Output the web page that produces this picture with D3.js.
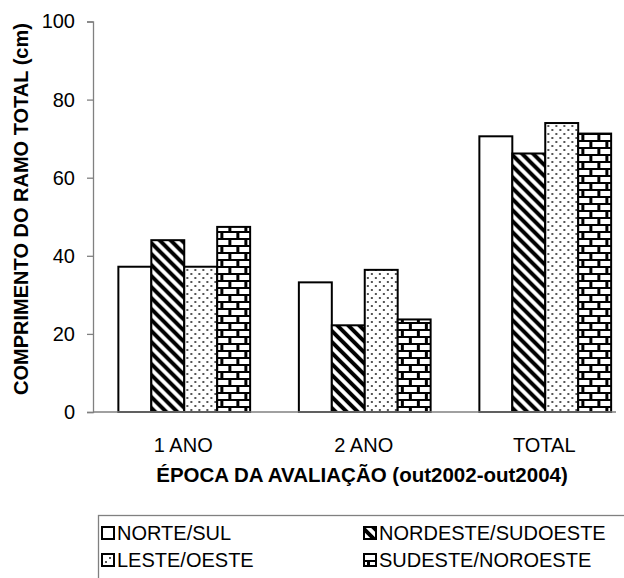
<!DOCTYPE html>
<html><head><meta charset="utf-8">
<script src="https://cdn.jsdelivr.net/npm/d3@7"></script>
<style>body{margin:0;background:#fff}svg{display:block}text{font-family:"Liberation Sans",Arial,sans-serif}</style>
</head><body><svg id="c" width="624" height="578"></svg>
<script>
const categories = ["1 ANO", "2 ANO", "TOTAL"];
const seriesNames = ["NORTE/SUL", "NORDESTE/SUDOESTE", "LESTE/OESTE", "SUDESTE/NOROESTE"];
const norteSul = [37.2, 33.2, 70.6];
const nordesteSudoeste = [44.0, 22.2, 66.2];
const lesteOeste = [37.2, 36.4, 74.0];
const sudesteNoroeste = [47.4, 23.7, 71.3];
const yTicks = [0, 20, 40, 60, 80, 100];
const yTitle = "COMPRIMENTO DO RAMO TOTAL (cm)";
const xTitle = "ÉPOCA DA AVALIAÇÃO (out2002-out2004)";

const seriesValues = [norteSul, nordesteSudoeste, lesteOeste, sudesteNoroeste];
const patternIds = ["pWhite", "pDiag", "pDots", "pBrick"];
const FONT = "Liberation Sans, Arial, sans-serif";

const svg = d3.select("#c");
const defs = svg.append("defs");
defs.append("pattern").attr("id","pWhite").attr("patternUnits","userSpaceOnUse").attr("width",8).attr("height",8)
  .append("rect").attr("width",8).attr("height",8).attr("fill","#fff");
{
  const p = defs.append("pattern").attr("id","pDiag").attr("patternUnits","userSpaceOnUse").attr("width",11).attr("height",11);
  p.append("rect").attr("width",11).attr("height",11).attr("fill","#fff");
  p.append("path").attr("d","M-2,-2L13,13M-13,-2L2,13M9,-2L24,13").attr("stroke","#000").attr("stroke-width",4);
}
{
  const p = defs.append("pattern").attr("id","pDots").attr("patternUnits","userSpaceOnUse").attr("width",8).attr("height",8);
  p.append("rect").attr("width",8).attr("height",8).attr("fill","#fff");
  p.append("rect").attr("x",1).attr("y",1).attr("width",2).attr("height",2).attr("fill","#555");
  p.append("rect").attr("x",5).attr("y",5).attr("width",2).attr("height",2).attr("fill","#555");
}
{
  const p = defs.append("pattern").attr("id","pBrick").attr("patternUnits","userSpaceOnUse").attr("width",16).attr("height",14);
  p.append("rect").attr("width",16).attr("height",14).attr("fill","#000");
  p.append("rect").attr("x",2).attr("y",2).attr("width",13).attr("height",5).attr("fill","#fff");
  p.append("rect").attr("x",-6).attr("y",9).attr("width",13).attr("height",5).attr("fill","#fff");
  p.append("rect").attr("x",10).attr("y",9).attr("width",13).attr("height",5).attr("fill","#fff");
}

const x0 = d3.scaleBand().domain(categories).range([93, 634.5]).paddingInner(0.27).paddingOuter(0.135);
const x1 = d3.scaleBand().domain(seriesNames).range([0, x0.bandwidth()]);
const y = d3.scaleLinear().domain([0, 100]).range([412, 21.5]);

const groups = svg.append("g").selectAll("g").data(categories).join("g")
  .attr("transform", d => `translate(${x0(d)},0)`);
groups.selectAll("rect").data((c, ci) => seriesNames.map((s, si) => ({s, si, v: seriesValues[si][ci]})))
  .join("rect")
  .attr("x", d => x1(d.s) + 1)
  .attr("y", d => y(d.v))
  .attr("width", x1.bandwidth())
  .attr("height", d => y(0) - y(d.v))
  .attr("fill", d => `url(#${patternIds[d.si]})`)
  .attr("stroke", "#000").attr("stroke-width", 2);

const yAxis = svg.append("g").attr("transform","translate(93,0)")
  .call(d3.axisLeft(y).tickValues(yTicks).tickSize(6).tickPadding(12));
yAxis.select(".domain").attr("stroke","#808080").attr("stroke-width",1.3);
yAxis.selectAll(".tick line").attr("stroke","#808080").attr("stroke-width",1.3);
yAxis.selectAll("text").attr("font-size",20).attr("fill","#000").attr("font-family",FONT);

svg.append("line").attr("x1",93).attr("x2",616).attr("y1",y(0)).attr("y2",y(0)).attr("stroke","#808080").attr("stroke-width",1.3);
const xAxis = svg.append("g").attr("transform",`translate(0,${y(0)})`)
  .call(d3.axisBottom(x0).tickSize(0).tickPadding(26));
xAxis.select(".domain").remove();
xAxis.selectAll("text").attr("font-size",20).attr("fill","#000").attr("font-family",FONT);

svg.append("text").attr("x", 362).attr("y", 482).attr("text-anchor","middle")
  .attr("font-size",20.5).attr("font-weight","bold").text(xTitle);
svg.append("text").attr("transform","translate(28,209) rotate(-90)").attr("text-anchor","middle")
  .attr("font-size",20).attr("font-weight","bold").text(yTitle);

const leg = svg.append("g");
leg.append("rect").attr("x",98.5).attr("y",515.5).attr("width",540).attr("height",80).attr("fill","none").attr("stroke","#808080").attr("stroke-width",1.3);
const legPos = [[102,540],[364,540],[102,567],[364,567]];
seriesNames.forEach((s, i) => {
  const [lx, ly] = legPos[i];
  leg.append("rect").attr("x", lx).attr("y", ly - 13).attr("width", 12).attr("height", 12)
    .attr("fill", `url(#${patternIds[i]})`).attr("stroke","#000").attr("stroke-width",2);
  leg.append("text").attr("x", lx + 15).attr("y", ly).attr("font-size",20).text(s);
});
</script></body></html>
